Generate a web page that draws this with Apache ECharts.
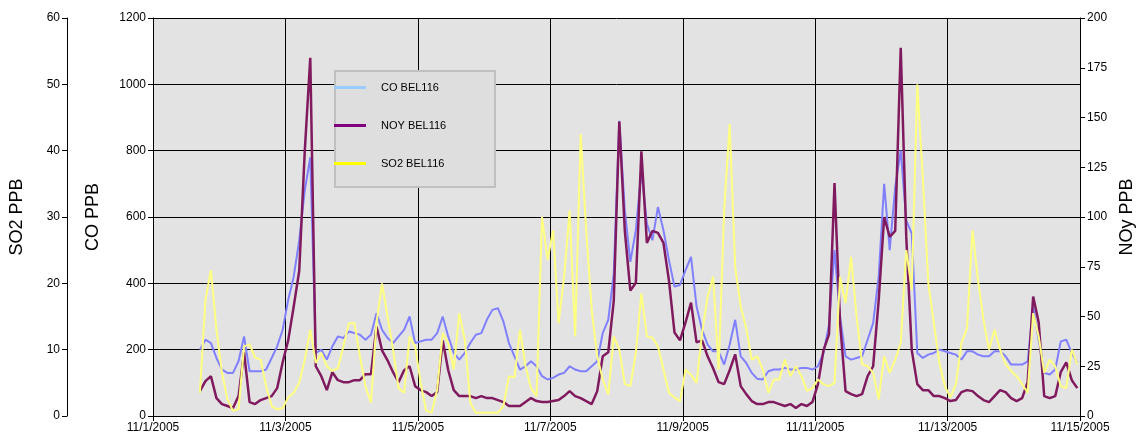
<!DOCTYPE html>
<html>
<head>
<meta charset="utf-8">
<script src="https://cdn.jsdelivr.net/npm/echarts@6/dist/echarts.min.js"></script>
<style>
html,body{margin:0;padding:0;background:#fff;}
#chart{width:1144px;height:438px;}
</style>
</head>
<body>
<div id="chart"></div>
<script>
// Time base: hours since 11/1/2005 00:00; readings every 2 hours from 11/1 17:00
const startHour = 17;
const stepHours = 2;
const dateLabels = ['11/1/2005','11/3/2005','11/5/2005','11/7/2005','11/9/2005','11/11/2005','11/13/2005','11/15/2005'];

// CO BEL116 (ppb)
const coPPB = [
  200,230,220,175,140,130,130,165,240,135,
  135,135,140,175,210,260,350,420,530,680,
  780,190,200,170,210,240,235,255,250,245,
  230,245,310,260,235,220,240,260,300,220,
  225,230,230,250,300,240,190,170,190,220,
  245,250,290,320,325,285,220,180,140,150,
  165,150,120,110,115,125,130,150,140,135,
  135,150,165,250,290,430,890,620,465,560,
  740,580,530,630,560,470,390,395,440,480,
  330,260,215,195,195,155,215,290,180,160,
  130,112,110,135,140,140,145,140,140,145,
  145,140,150,190,275,500,300,180,170,175,
  180,230,280,420,700,500,690,800,590,550,
  190,175,185,190,200,195,190,185,170,195,
  195,185,180,180,195,195,180,155,155,155,
  165,330,230,130,125,140,225,230,190,160
];

// NOY BEL116 (ppb)
const noyPPB = [
  12.5,17.5,20,9,6,5,4,10,32,7,
  6,8,9,10,14,27,38,55,73,133,
  180,25,20,13,22,18,17,17,18,18,
  21,21,45,33,28,22,17,23,25,15,
  13,12,10,12,38,23,13,10,10,10,
  9,10,9,9,8,7,5,5,5,7,
  9,7.5,7,7,7.5,8,10,12.5,10,9,
  7.5,6,12.5,30,32,58,148,93,63,67,
  133,87,93,92,87,68,42,38,47,57,
  37,38,30,24,17,16,23,31,15,11,
  7.5,6,6,7,7,6,5,6,4,6,
  5,7,16,33,41,117,47,12.5,11,10,
  11,20,25,58,100,90,93,185,90,33,
  16,13,13,10,10,9,7.5,8,12,13,
  12.5,10,8,7,10,13,12,9,7.5,9,
  17,60,47,10,9,10,22,27,18,14
];

// SO2 BEL116 (ppb)
const so2PPB = [
  3.5,17.5,22,13,6.5,2.5,0.8,1,10.5,10.8,
  8.8,8.5,4.5,1.5,1,1.2,2.8,3.5,5,8.5,
  13,8,9.5,7.5,6.8,7.2,10.5,14,14,9,
  4.5,2,14,20,15,10,4.2,3.5,12,10.5,
  5,0.8,0.5,4,12.5,11,7,15.5,11.5,2,
  0.5,0.5,0.5,0.5,0.5,1.5,6,5.8,13,7.5,
  4.2,3,30,23.5,28,14,21,31,12,42.5,
  28,16,9,5.5,3.2,12,10,4.8,4.5,9.5,
  18.5,12,11.8,10.5,7,3.5,2.8,2.2,7,6.2,
  5,12.5,18,21,7,31,44,22.5,16.5,13.2,
  8.5,9,7,3.5,5.5,5.5,8.5,6,7.5,6,
  3.8,4.2,5.5,4.8,4.5,5,21,17,24,15,
  7.8,7.5,6.5,2.5,9,6.5,8.5,11,25,19,
  50,36,20,14,8,4.5,2.8,4.8,11,13.2,
  28,20.5,14.5,10,13,10,7.8,6.8,6,4.8,
  3.5,15.5,12,6.5,8.5,7.5,4.5,4.2,10,7.8
];

const legendNames = ['CO BEL116','NOY BEL116','SO2 BEL116'];
const legendColors = ['#99ccff','#800080','#ffff00'];

function toPairs(vals){ return vals.map((v,i)=>[startHour + i*stepHours, v]); }

const FONT = 'Liberation Sans, Arial, sans-serif';
const chart = echarts.init(document.getElementById('chart'), null, {renderer:'canvas'});

const plainNum = (v)=>String(v);
const axisCommon = {
  axisLine:{show:true, lineStyle:{color:'#000', width:1}},
  axisTick:{show:true, length:5, inside:false, lineStyle:{color:'#000'}},
  axisLabel:{color:'#000', fontSize:12, fontFamily:FONT, margin:7, formatter:plainNum},
  nameLocation:'middle', nameRotate:90,
  nameTextStyle:{color:'#000', fontSize:18, fontFamily:FONT}
};

chart.setOption({
  animation:false,
  backgroundColor:'#ffffff',
  grid:{left:153, right:62, top:18, bottom:22, show:true, backgroundColor:'#e3e3e3', borderWidth:0},
  graphic:[{
    type:'rect', left:334, top:70, z:90,
    shape:{width:160, height:116},
    style:{fill:'#dedede', stroke:'#c0c0c0', lineWidth:2}
  }],
  legend:{
    data:legendNames,
    orient:'vertical', left:334, top:82, z:100,
    itemWidth:32, itemHeight:3, itemGap:27, icon:'rect',
    padding:0,
    textStyle:{color:'#000', fontSize:11, fontFamily:FONT, padding:[0,0,6,10]},
    selectedMode:false
  },
  xAxis:{
    type:'value', min:0, max:336, interval:48,
    axisLine:{show:true, onZero:false, lineStyle:{color:'#000'}},
    axisTick:{show:true, length:5, lineStyle:{color:'#000'}},
    axisLabel:{color:'#000', fontSize:12, fontFamily:FONT, margin:6,
      formatter:(v)=>dateLabels[Math.round(v/48)] || ''},
    splitLine:{show:true, lineStyle:{color:'#000', width:1}}
  },
  yAxis:[
    Object.assign({}, axisCommon, {
      type:'value', name:'CO PPB', position:'left', min:0, max:1200, interval:200,
      nameGap:51,
      splitLine:{show:true, lineStyle:{color:'#000', width:1}}
    }),
    Object.assign({}, axisCommon, {
      type:'value', name:'SO2 PPB', position:'left', offset:86, min:0, max:60, interval:10,
      nameGap:41,
      splitLine:{show:false}
    }),
    Object.assign({}, axisCommon, {
      type:'value', name:'NOy PPB', position:'right', min:0, max:200, interval:25,
      nameGap:36,
      splitLine:{show:false}
    })
  ],
  series:[
    {name:'CO', type:'line', yAxisIndex:0, data:toPairs(coPPB), showSymbol:false, symbol:'none',
      lineStyle:{color:'#8080ff', width:2}, itemStyle:{color:'#8080ff'}, z:2},
    {name:'NOY', type:'line', yAxisIndex:2, data:toPairs(noyPPB), showSymbol:false, symbol:'none',
      lineStyle:{color:'#801a5e', width:2.5}, itemStyle:{color:'#801a5e'}, z:3},
    {name:'SO2', type:'line', yAxisIndex:1, data:toPairs(so2PPB), showSymbol:false, symbol:'none',
      lineStyle:{color:'#ffff80', width:2}, itemStyle:{color:'#ffff80'}, z:4},
    {name:legendNames[0], type:'line', yAxisIndex:0, data:[], itemStyle:{color:legendColors[0]}, lineStyle:{color:legendColors[0]}},
    {name:legendNames[1], type:'line', yAxisIndex:0, data:[], itemStyle:{color:legendColors[1]}, lineStyle:{color:legendColors[1]}},
    {name:legendNames[2], type:'line', yAxisIndex:0, data:[], itemStyle:{color:legendColors[2]}, lineStyle:{color:legendColors[2]}}
  ]
});
</script>
</body>
</html>
